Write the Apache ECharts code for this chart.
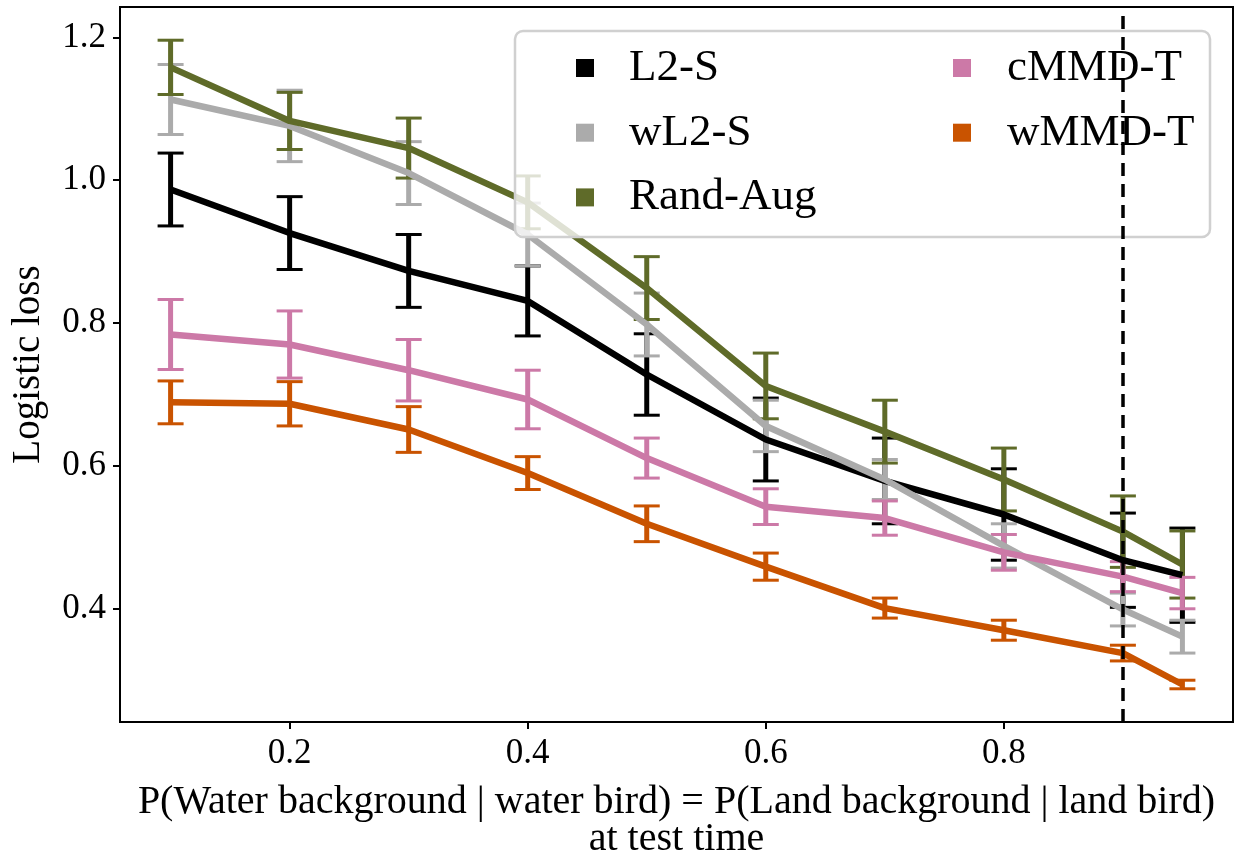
<!DOCTYPE html>
<html>
<head>
<meta charset="utf-8">
<script src="https://cdn.jsdelivr.net/npm/echarts@6/dist/echarts.min.js"></script>
<style>html,body{margin:0;padding:0;background:#fff}#chart{width:1238px;height:857px}</style>
</head>
<body>
<div id="chart"></div>
<script>
const xs = [0.1, 0.2, 0.3, 0.4, 0.5, 0.6, 0.7, 0.8, 0.9, 0.95];
const xTicks = [0.2, 0.4, 0.6, 0.8];
const yTicks = [0.4, 0.6, 0.8, 1.0, 1.2];
const refLineX = 0.9;

const l2sMean = [0.987, 0.926, 0.873, 0.831, 0.728, 0.637, 0.579, 0.532, 0.468, 0.447];
const l2sErr  = [0.051, 0.051, 0.051, 0.049, 0.057, 0.058, 0.060, 0.064, 0.066, 0.066];
const wl2sMean = [1.113, 1.076, 1.010, 0.924, 0.798, 0.656, 0.581, 0.488, 0.399, 0.361];
const wl2sErr  = [0.049, 0.050, 0.044, 0.044, 0.044, 0.036, 0.028, 0.031, 0.023, 0.023];
const randMean = [1.158, 1.083, 1.045, 0.969, 0.849, 0.712, 0.648, 0.581, 0.508, 0.462];
const randErr  = [0.038, 0.040, 0.042, 0.037, 0.044, 0.046, 0.044, 0.044, 0.050, 0.047];
const cmmdMean = [0.784, 0.770, 0.734, 0.693, 0.611, 0.543, 0.527, 0.479, 0.445, 0.422];
const cmmdErr  = [0.049, 0.047, 0.043, 0.041, 0.028, 0.025, 0.024, 0.025, 0.021, 0.022];
const wmmdMean = [0.689, 0.687, 0.651, 0.590, 0.519, 0.459, 0.401, 0.370, 0.338, 0.294];
const wmmdErr  = [0.030, 0.031, 0.032, 0.023, 0.025, 0.019, 0.014, 0.014, 0.011, 0.006];

const seriesDefs = [
  {name: 'L2-S', mean: l2sMean, err: l2sErr, color: '#000000'},
  {name: 'wL2-S', mean: wl2sMean, err: wl2sErr, color: '#ababab'},
  {name: 'Rand-Aug', mean: randMean, err: randErr, color: '#5f6b29'},
  {name: 'cMMD-T', mean: cmmdMean, err: cmmdErr, color: '#cc79a7'},
  {name: 'wMMD-T', mean: wmmdMean, err: wmmdErr, color: '#c95300'}
];

const FONT = "'Liberation Serif', 'DejaVu Serif', serif";

function errRenderer(color) {
  return function (params, api) {
    const x = api.value(0), lo = api.value(1), hi = api.value(2);
    const pt = api.coord([x, hi]);
    const pb = api.coord([x, lo]);
    const cw = 13;
    return {
      type: 'group',
      children: [
        {type: 'line', shape: {x1: pt[0], y1: pt[1], x2: pb[0], y2: pb[1]}, style: {stroke: color, lineWidth: 5}},
        {type: 'line', shape: {x1: pt[0] - cw, y1: pt[1], x2: pt[0] + cw, y2: pt[1]}, style: {stroke: color, lineWidth: 3}},
        {type: 'line', shape: {x1: pb[0] - cw, y1: pb[1], x2: pb[0] + cw, y2: pb[1]}, style: {stroke: color, lineWidth: 3}}
      ]
    };
  };
}

const series = [];
seriesDefs.forEach(function (s, i) {
  series.push({
    name: s.name + ' err',
    type: 'custom',
    renderItem: errRenderer(s.color),
    encode: {x: 0, y: [1, 2]},
    data: xs.map(function (x, k) { return [x, s.mean[k] - s.err[k], s.mean[k] + s.err[k]]; }),
    z: 2,
    silent: true
  });
  series.push({
    name: s.name,
    type: 'line',
    data: xs.map(function (x, k) { return [x, s.mean[k]]; }),
    symbol: 'none',
    color: s.color,
    lineStyle: {color: s.color, width: 6.5, join: 'round'},
    z: 2,
    silent: true
  });
});
series.push({
  name: 'ref',
  type: 'line',
  data: [],
  z: 2,
  markLine: {
    silent: true,
    symbol: ['none', 'none'],
    label: {show: false},
    lineStyle: {color: '#000', width: 3.5, type: [13, 8]},
    data: [{xAxis: refLineX}]
  }
});

const legendCommon = {
  orient: 'vertical',
  icon: 'rect',
  itemWidth: 18,
  itemHeight: 18,
  itemGap: 14.7,
  selectedMode: false,
  z: 5,
  itemStyle: {borderWidth: 0},
  textStyle: {fontFamily: FONT, fontSize: 45, color: '#000', lineHeight: 50}
};

const option = {
  animation: false,
  backgroundColor: '#fff',
  grid: {left: 120, right: 5, top: 7, bottom: 135, show: true, borderColor: '#000', borderWidth: 2, backgroundColor: 'transparent', containLabel: false, outerBoundsMode: 'none'},
  xAxis: {
    type: 'value',
    min: 0.0575, max: 0.9925,
    name: 'P(Water background | water bird) = P(Land background | land bird)\nat test time',
    nameLocation: 'middle',
    nameGap: 62,
    nameTextStyle: {fontFamily: FONT, fontSize: 40, color: '#000', lineHeight: 37},
    axisLine: {show: true, onZero: false, lineStyle: {color: '#000', width: 2}},
    axisTick: {show: true, length: 7, lineStyle: {color: '#000', width: 2}, customValues: xTicks},
    axisLabel: {fontFamily: FONT, fontSize: 35, color: '#000', margin: 14, customValues: xTicks, formatter: function (v) { return v.toFixed(1); }},
    splitLine: {show: false}
  },
  yAxis: {
    type: 'value',
    min: 0.2415, max: 1.2425,
    name: 'Logistic loss',
    nameLocation: 'middle',
    nameGap: 72,
    nameTextStyle: {fontFamily: FONT, fontSize: 39, color: '#000'},
    axisLine: {show: true, onZero: false, lineStyle: {color: '#000', width: 2}},
    axisTick: {show: true, length: 7, lineStyle: {color: '#000', width: 2}, customValues: yTicks},
    axisLabel: {fontFamily: FONT, fontSize: 35, color: '#000', margin: 14, customValues: yTicks, formatter: function (v) { return v.toFixed(1); }},
    splitLine: {show: false}
  },
  legend: [
    Object.assign({}, legendCommon, {left: 571, top: 38, data: ['L2-S', 'wL2-S', 'Rand-Aug'],
      textStyle: Object.assign({}, legendCommon.textStyle, {padding: [0, 0, 0, 30]})}),
    Object.assign({}, legendCommon, {left: 948, top: 38, data: ['cMMD-T', 'wMMD-T'],
      textStyle: Object.assign({}, legendCommon.textStyle, {padding: [0, 0, 0, 31]})})
  ],
  graphic: [{
    type: 'rect',
    z: 4,
    silent: true,
    shape: {x: 515, y: 31, width: 695, height: 206, r: 8},
    style: {fill: 'rgba(255,255,255,0.8)', stroke: '#d0d0d0', lineWidth: 2.5}
  }],
  series: series
};

const chart = echarts.init(document.getElementById('chart'), null, {renderer: 'canvas'});
chart.setOption(option);
</script>
</body>
</html>
